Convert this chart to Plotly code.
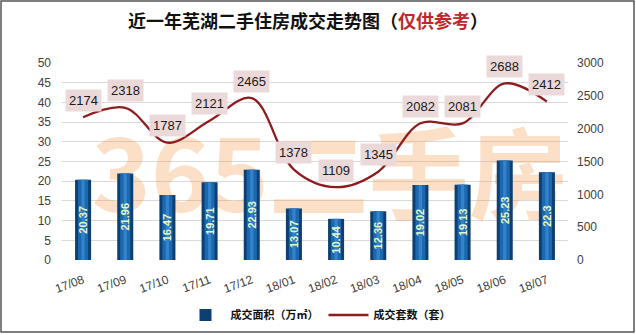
import plotly.graph_objects as go

months = ["17/08", "17/09", "17/10", "17/11", "17/12", "18/01",
          "18/02", "18/03", "18/04", "18/05", "18/06", "18/07"]
area = [20.37, 21.96, 16.47, 19.71, 22.93, 13.07,
        10.44, 12.36, 19.02, 19.13, 25.23, 22.3]
units = [2174, 2318, 1787, 2121, 2465, 1378,
         1109, 1345, 2082, 2081, 2688, 2412]
left_ticks = list(range(0, 55, 5))
right_ticks = list(range(0, 3500, 500))

W, H = 636, 335
L, R, T, B = 62, 68, 63, 75
pw, ph = W - L - R, H - T - B

fig = go.Figure()

# watermark (bottom layer, main hidden axes)
fig.add_trace(go.Scatter(
    x=[0.53], y=[0.37], mode="text", text=["<b>365二手房</b>"],
    textfont=dict(size=100, color="rgba(242,150,70,0.30)", family="Noto Sans CJK SC"),
    xaxis="x", yaxis="y", showlegend=False, hoverinfo="skip", cliponaxis=False))
fig.add_trace(go.Scatter(
    x=[-0.025], y=[0.48], mode="text", text=["<b>芜<br>湖</b>"],
    textfont=dict(size=40, color="rgba(140,140,140,0.30)", family="Noto Sans CJK SC"),
    xaxis="x", yaxis="y", showlegend=False, hoverinfo="skip", cliponaxis=False))

# bars (cylinder-like shading with overlaid widths)
fig.add_trace(go.Bar(x=months, y=area, width=0.38, marker=dict(color="#0D3F72", line=dict(width=0)),
                     name="<b>成交面积（万㎡）</b>", xaxis="x2", yaxis="y2", legendrank=1))
fig.add_trace(go.Bar(x=months, y=area, width=0.24, marker=dict(color="#1C68AE", line=dict(width=0)),
                     showlegend=False, xaxis="x2", yaxis="y2", hoverinfo="skip"))
fig.add_trace(go.Bar(x=months, y=area, width=0.08, marker=dict(color="#3283CB", line=dict(width=0)),
                     showlegend=False, xaxis="x2", yaxis="y2", hoverinfo="skip"))
fig.add_trace(go.Bar(x=months, y=area, width=0.38, marker=dict(color="rgba(0,0,0,0)", line=dict(width=0)),
                     text=[f"<b>{v:g}</b>" for v in area], textposition="inside", insidetextanchor="middle",
                     textangle=-90, constraintext="none",
                     textfont=dict(size=11, color="#E6F7C6", family="Liberation Sans"),
                     showlegend=False, xaxis="x2", yaxis="y2", hoverinfo="skip"))

# line
fig.add_trace(go.Scatter(x=months, y=units, mode="lines", name="<b>成交套数（套）</b>",
                         line=dict(color="#8E1B1E", width=2.3, shape="spline", smoothing=1.0),
                         xaxis="x2", yaxis="y3", legendrank=2))

for m, u in zip(months, units):
    fig.add_annotation(x=m, y=u, xref="x2", yref="y3", text=str(u), showarrow=False,
                       yshift=17, bgcolor="#EBD9DA", borderpad=3,
                       font=dict(size=13, color="#1A1A1A", family="Liberation Sans"))

# frame
fig.add_shape(type="rect", xref="paper", yref="paper",
              x0=(1 - L) / pw, x1=(634 - L) / pw,
              y0=(ph + T - 332) / ph, y1=(ph + T - 1) / ph,
              line=dict(color="#555555", width=1.5), layer="above")

fig.update_layout(
    width=W, height=H,
    margin=dict(l=L, r=R, t=T, b=B, autoexpand=False),
    paper_bgcolor="white", plot_bgcolor="white",
    barmode="overlay",
    title=dict(
        text="<b>近一年芜湖二手住房成交走势图（<span style='color:#C0282D'>仅供参考</span>）</b>",
        x=308 / W, xanchor="center", y=1 - 22 / H, yanchor="middle",
        font=dict(size=18, color="#111111", family="Noto Sans CJK SC")),
    xaxis=dict(range=[0, 1], visible=False, domain=[0, 1], fixedrange=True),
    yaxis=dict(range=[0, 1], visible=False, domain=[0, 1], fixedrange=True),
    xaxis2=dict(overlaying="x", type="category", categoryorder="array", categoryarray=months,
                tickangle=-20, tickfont=dict(size=12, color="#404040", family="Liberation Sans"),
                showgrid=False, showline=False, ticks="", anchor="y2", ticklabelstandoff=10,
                automargin=False),
    yaxis2=dict(overlaying="y", side="left", range=[0, 50], tickvals=left_ticks, anchor="x2",
                tickfont=dict(size=12, color="#404040", family="Liberation Sans"),
                showgrid=True, gridcolor="#D9D9D9", gridwidth=1, zeroline=False,
                ticks="", ticklabelstandoff=10, automargin=False),
    yaxis3=dict(overlaying="y", side="right", range=[0, 3000], tickvals=right_ticks, anchor="x2",
                tickfont=dict(size=12, color="#404040", family="Liberation Sans"),
                showgrid=False, zeroline=False, ticks="", ticklabelstandoff=8, automargin=False),
    legend=dict(orientation="h", x=(318 - L) / pw, xanchor="center",
                y=-(315 - T - ph) / ph, yanchor="middle",
                font=dict(size=11, color="#111111", family="Noto Sans CJK SC"),
                itemwidth=40, tracegroupgap=0),
    showlegend=True,
)

fig.write_html("out.html")
